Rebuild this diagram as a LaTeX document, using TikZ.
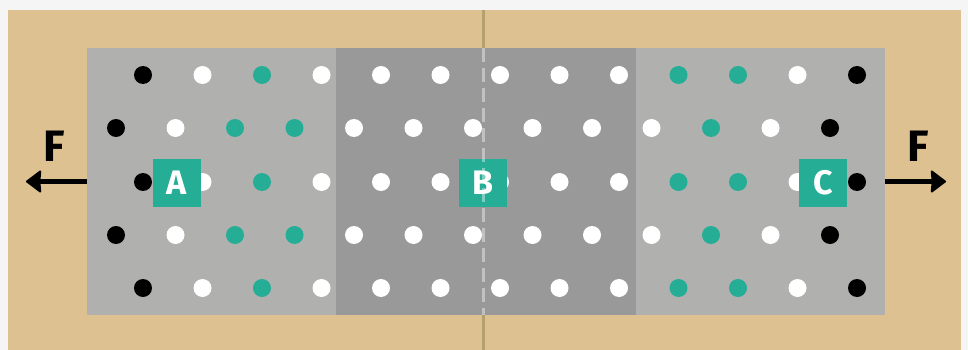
\documentclass[tikz,border=0pt]{standalone}
\usepackage{fontspec}
\setsansfont{Fira Sans}
\usetikzlibrary{arrows.meta, positioning, calc}

\definecolor{paper}{HTML}{F5F5F5}
\definecolor{wood}{HTML}{DEC190}
\definecolor{woodseam}{HTML}{B3A06B}
\definecolor{barlight}{HTML}{B0B0AF}
\definecolor{bardark}{HTML}{999999}
\definecolor{dott}{HTML}{26AD96}
\definecolor{dotw}{HTML}{FFFFFF}
\definecolor{dotk}{HTML}{000000}

\tikzset{
  zone/.style={inner sep=0pt, minimum height=267pt},
  tag/.style={fill=dott, minimum size=48pt, inner sep=0pt, text=white,
              font=\sffamily\bfseries\fontsize{34}{34}\selectfont},
  flabel/.style={inner sep=0pt, font=\sffamily\bfseries\fontsize{44}{44}\selectfont},
  force/.style={line width=4.5pt, -{Stealth[round, inset=1pt, length=16pt, width=24pt, line width=2pt]}},
  seam/.style={woodseam, line width=3pt},
  cut/.style={white, opacity=0.4, line width=3pt, dash pattern=on 14pt off 6pt}
}

\begin{document}
\begin{tikzpicture}[x=1pt, y=-1pt]
  \fill[paper] (0,0) rectangle (968,350);
  \useasboundingbox (0,0) rectangle (968,350);
  \fill[wood] (8,10) rectangle (961,350);
  \draw[seam] (483,10) -- (483,350);

  % the bar and its middle part
  \node[zone, fill=barlight, minimum width=798pt] (bar) at (486,181.5) {};
  \node[zone, fill=bardark, minimum width=300pt] (mid) at (486,181.5) {};

  % atoms
  \foreach \c [count=\i] in {k,w,t,w,w,w,w,w,w,t,t,w,k}
    \foreach \y in {75,182,288}
      \fill[dot\c] (83.5+59.5*\i,\y) circle (9pt);
  \foreach \c [count=\i] in {k,w,t,t,w,w,w,w,w,w,t,w,k}
    \foreach \y in {128,235}
      \fill[dot\c] (56.5+59.5*\i,\y) circle (9pt);

  \node[tag] (a) at (177,182.5) {A};
  \node[tag] (b) at (483,182.5) {B};
  \node[tag] (c) at (823,182.5) {C};

  \draw[cut] (483,48) -- (483,315);

  % pulling forces
  \coordinate (ltip) at (26,181.5);
  \coordinate (rtip) at (946,181.5);
  \draw[force] (bar.west) -- (ltip);
  \draw[force] (bar.east) -- (rtip);
  \node[flabel] (fl) at (54,146) {F};
  \node[flabel] (fr) at (918,146) {F};
\end{tikzpicture}
\end{document}
